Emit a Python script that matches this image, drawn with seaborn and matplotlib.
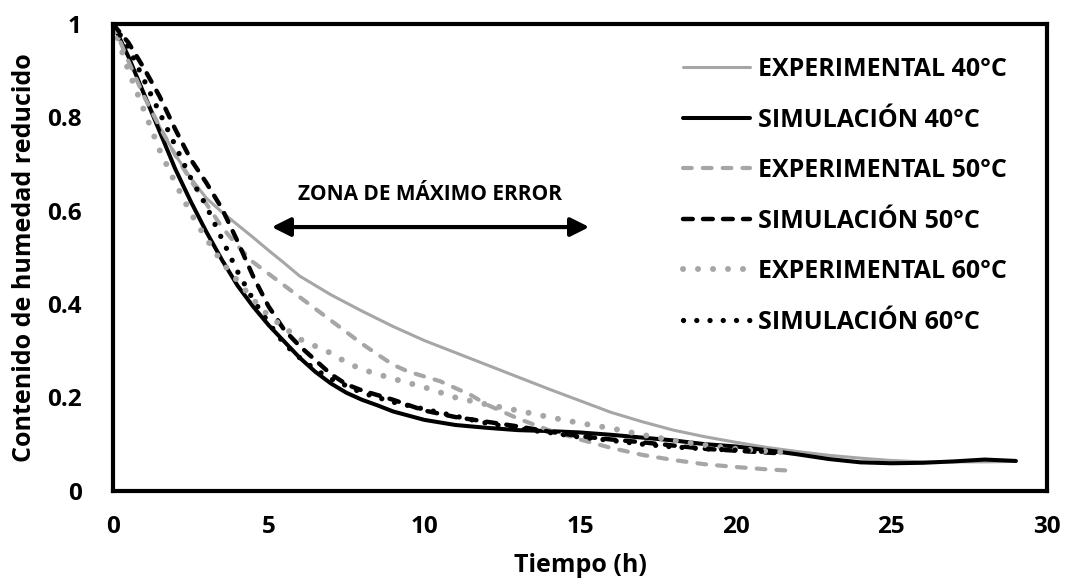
import matplotlib
matplotlib.use("Agg")
import matplotlib.pyplot as plt
import seaborn as sns
import pandas as pd
from matplotlib.ticker import FuncFormatter

# Drying curves: reduced moisture content vs. time (h)
t_exp40 = [0, 0.5, 1, 1.5, 2, 2.5, 3, 3.5, 4, 4.5, 5, 5.5, 6, 7, 8, 9, 10, 11, 12,
           13, 14, 15, 16, 17, 18, 19, 20, 21, 22, 23, 24, 25, 26, 27, 28, 29]
y_exp40 = [1.0, 0.93, 0.85, 0.78, 0.72, 0.67, 0.627, 0.597, 0.57, 0.543, 0.515,
           0.488, 0.46, 0.42, 0.385, 0.352, 0.322, 0.296, 0.27, 0.244, 0.218,
           0.193, 0.168, 0.148, 0.13, 0.116, 0.104, 0.093, 0.084, 0.076, 0.070,
           0.065, 0.062, 0.062, 0.062, 0.063]

t_sim40 = [0, 0.5, 1, 1.5, 2, 2.5, 3, 3.5, 4, 4.5, 5, 5.5, 6, 6.5, 7, 7.5, 8, 8.5, 9,
           10, 11, 12, 13, 14, 15, 16, 17, 18, 19, 20, 21, 22, 23, 24, 25, 26, 27,
           28, 29]
y_sim40 = [1.0, 0.93, 0.85, 0.77, 0.69, 0.62, 0.555, 0.495, 0.44, 0.395, 0.355,
           0.32, 0.285, 0.255, 0.23, 0.21, 0.195, 0.183, 0.17, 0.152, 0.141, 0.135,
           0.130, 0.128, 0.125, 0.120, 0.114, 0.108, 0.100, 0.095, 0.087, 0.078,
           0.068, 0.061, 0.059, 0.060, 0.063, 0.067, 0.064]

t_exp50 = [0, 0.5, 1, 1.5, 2, 2.5, 3, 3.5, 4, 4.5, 5, 5.5, 6, 6.5, 7, 7.5, 8, 8.5, 9,
           9.5, 10, 10.5, 11, 11.5, 12, 12.5, 13, 14, 15, 16, 17, 18, 19, 20, 21,
           21.8]
y_exp50 = [1.0, 0.92, 0.845, 0.78, 0.72, 0.665, 0.615, 0.565, 0.525, 0.49, 0.465,
           0.44, 0.415, 0.39, 0.365, 0.34, 0.315, 0.292, 0.27, 0.255, 0.245, 0.235,
           0.22, 0.205, 0.185, 0.17, 0.155, 0.13, 0.11, 0.092, 0.077, 0.066, 0.057,
           0.051, 0.046, 0.043]

t_sim50 = [0, 0.5, 1, 1.5, 2, 2.5, 3, 3.5, 4, 4.5, 5, 5.5, 6, 6.5, 7, 7.5, 8, 9, 10,
           11, 12, 13, 14, 15, 16, 17, 18, 19, 20, 21, 21.5]
y_sim50 = [1.0, 0.96, 0.905, 0.845, 0.775, 0.71, 0.66, 0.605, 0.535, 0.46, 0.395,
           0.345, 0.31, 0.28, 0.25, 0.228, 0.215, 0.195, 0.172, 0.158, 0.148, 0.138,
           0.127, 0.117, 0.110, 0.104, 0.097, 0.090, 0.086, 0.082, 0.080]

t_exp60 = [0, 0.5, 1, 1.5, 2, 2.5, 3, 3.5, 4, 4.5, 5, 5.5, 6, 6.5, 7, 7.5, 8, 8.5, 9,
           10, 11, 12, 13, 14, 15, 16, 17, 18, 19, 20, 21, 21.5]
y_exp60 = [1.0, 0.90, 0.815, 0.73, 0.66, 0.595, 0.54, 0.49, 0.45, 0.41, 0.375, 0.35,
           0.325, 0.31, 0.295, 0.275, 0.26, 0.25, 0.24, 0.222, 0.20, 0.185, 0.172,
           0.158, 0.145, 0.134, 0.12, 0.108, 0.098, 0.09, 0.085, 0.083]

t_sim60 = [0, 0.5, 1, 1.5, 2, 2.5, 3, 3.5, 4, 4.5, 5, 5.5, 6, 6.5, 7, 7.5, 8, 9, 10,
           11, 12, 13, 14, 15, 16, 17, 18, 19, 20, 21, 21.5]
y_sim60 = [1.0, 0.95, 0.88, 0.81, 0.74, 0.67, 0.61, 0.54, 0.47, 0.41, 0.36, 0.315,
           0.285, 0.26, 0.24, 0.225, 0.21, 0.19, 0.175, 0.16, 0.145, 0.133, 0.125,
           0.115, 0.108, 0.100, 0.094, 0.090, 0.087, 0.084, 0.082]

labels = ["EXPERIMENTAL 40°C", "SIMULACIÓN 40°C", "EXPERIMENTAL 50°C",
          "SIMULACIÓN 50°C", "EXPERIMENTAL 60°C", "SIMULACIÓN 60°C"]
x_ticks = [0, 5, 10, 15, 20, 25, 30]
y_ticks = [0, 0.2, 0.4, 0.6, 0.8, 1]

series = [(t_exp40, y_exp40), (t_sim40, y_sim40), (t_exp50, y_exp50),
          (t_sim50, y_sim50), (t_exp60, y_exp60), (t_sim60, y_sim60)]
frames = []
for lab, (tt, yy) in zip(labels, series):
    frames.append(pd.DataFrame({"t": tt, "y": yy, "serie": lab}))
df = pd.concat(frames, ignore_index=True)

sns.set_theme(style="white")
plt.rcParams["font.family"] = ["Open Sans", "DejaVu Sans"]
plt.rcParams["font.weight"] = "bold"
plt.rcParams["text.color"] = "black"
plt.rcParams["axes.labelcolor"] = "black"
plt.rcParams["xtick.color"] = "black"
plt.rcParams["ytick.color"] = "black"

GRAY = "#a6a6a6"
styles = {
    "EXPERIMENTAL 40°C": dict(color=GRAY, lw=2.2, ls="-"),
    "SIMULACIÓN 40°C": dict(color="black", lw=2.9, ls="-"),
    "EXPERIMENTAL 50°C": dict(color=GRAY, lw=3.0, ls=(0, (2.1, 2.66))),
    "SIMULACIÓN 50°C": dict(color="black", lw=3.2, ls=(0, (2.2, 2.3))),
    "EXPERIMENTAL 60°C": dict(color=GRAY, lw=4.3, ls=(0, (0.01, 2.5))),
    "SIMULACIÓN 60°C": dict(color="black", lw=3.8, ls=(0, (0.01, 2.5))),
}

fig = plt.figure(figsize=(10.75, 5.85), dpi=100)
ax = fig.add_axes([0.105, 0.161, 0.869, 0.798])

for lab in labels:
    st = styles[lab]
    sns.lineplot(data=df[df["serie"] == lab], x="t", y="y", ax=ax,
                 color=st["color"], linewidth=st["lw"], linestyle=st["ls"],
                 label=lab, sort=False, estimator=None,
                 dash_capstyle="round", solid_capstyle="round")

ax.set_xlim(0, 30)
ax.set_ylim(0, 1)
ax.set_xticks(x_ticks)
ax.set_yticks(y_ticks)
ax.yaxis.set_major_formatter(FuncFormatter(lambda v, p: f"{v:g}"))
ax.tick_params(axis="both", direction="inout", length=9, width=2.2,
               labelsize=17.5, colors="black")
ax.tick_params(axis="x", pad=13)
ax.tick_params(axis="y", pad=18)
for lbl in ax.get_xticklabels() + ax.get_yticklabels():
    lbl.set_fontweight("bold")
for sp in ax.spines.values():
    sp.set_visible(True)
    sp.set_linewidth(3)
    sp.set_color("black")

ax.set_xlabel("Tiempo (h)", fontsize=18, fontweight="bold", labelpad=10)
ax.set_ylabel("Contenido de humedad reducido", fontsize=18, fontweight="bold",
              labelpad=7)

# zone of maximum error
ax.annotate("", xy=(5.1, 0.565), xytext=(15.3, 0.565),
            arrowprops=dict(arrowstyle="<|-|>", lw=3, color="black",
                            mutation_scale=28, shrinkA=0, shrinkB=0))
ax.text(10.2, 0.634, "ZONA DE MÁXIMO ERROR", ha="center", va="center",
        fontsize=15, fontweight="bold")

leg = ax.legend(loc="upper left", bbox_to_anchor=(0.610, 0.929), frameon=False,
                fontsize=18, handlelength=2.7, handletextpad=0.3,
                labelspacing=1.02, borderaxespad=0, borderpad=0)
for txt in leg.get_texts():
    txt.set_fontweight("bold")

fig.savefig("out.png", dpi=100, facecolor="white")
